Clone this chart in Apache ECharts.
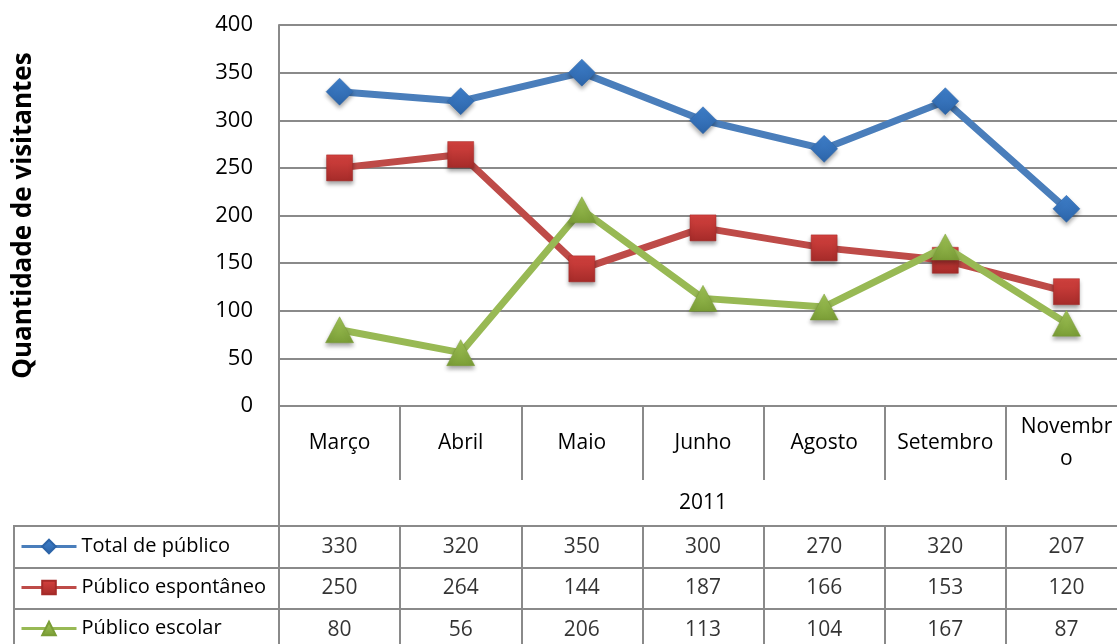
<!DOCTYPE html>
<html>
<head>
<meta charset="utf-8">
<script src="https://cdn.jsdelivr.net/npm/echarts@6/dist/echarts.min.js"></script>
<style>
html,body{margin:0;padding:0;background:#fff;}
#chart{width:1117px;height:644px;}
</style>
</head>
<body>
<div id="chart"></div>
<script>
const categories = ['Março','Abril','Maio','Junho','Agosto','Setembro','Novembro'];
const categoryTickLabels = ['Março','Abril','Maio','Junho','Agosto','Setembro','Novembr\no'];
const yearLabel = '2011';
const seriesNames = ['Total de público','Público espontâneo','Público escolar'];
const totalPublico = [330,320,350,300,270,320,207];
const publicoEspontaneo = [250,264,144,187,166,153,120];
const publicoEscolar = [80,56,206,113,104,167,87];
const yTicks = {min:0, max:400, interval:50};
const yTitle = 'Quantidade de visitantes';

const FONT = 'Open Sans';
const GRAY = '#8a8a8a';
const lineColors = ['#4a7ebb','#be4b48','#98b954'];
const markerTop = ['#3f80cc','#d6423f','#a2c658'];
const markerBottom = ['#2c64a8','#a52b29','#7a9d36'];
const symbols = ['diamond','rect','triangle'];
const symbolSizes = [27,26,[28,26]];
const allValues = [totalPublico, publicoEspontaneo, publicoEscolar];

const L = 279, W = 848;
const chart = echarts.init(document.getElementById('chart'));

function grad(i){
  return new echarts.graphic.LinearGradient(0,0,0,1,[
    {offset:0,color:markerTop[i]},{offset:1,color:markerBottom[i]}]);
}

const lineSeries = seriesNames.map((name,i)=>({
  name, type:'line', xAxisIndex:0, yAxisIndex:0,
  data: allValues[i],
  symbol: symbols[i], symbolSize: symbolSizes[i],
  lineStyle:{color:lineColors[i], width:7},
  itemStyle:{color:grad(i), borderColor:markerBottom[i], borderWidth:0.5,
    shadowColor:'rgba(0,0,0,0.35)', shadowBlur:4, shadowOffsetY:3},
  z: 3+i
}));

const tableSeries = seriesNames.map((name,i)=>({
  name: 'tbl_'+i, type:'scatter', xAxisIndex:1, yAxisIndex:1,
  symbolSize:0, silent:true,
  data: allValues[i].map((v,j)=>[j,i,v]),
  label:{show:true, position:'inside', formatter:p=>String(p.value[2]),
    color:'#000', fontFamily:FONT, fontSize:21}
}));

const gridBase = {outerBoundsMode:'none', containLabel:false};

const option = {
  animation:false,
  backgroundColor:'#fff',
  textStyle:{fontFamily:FONT},
  legend:{
    data: seriesNames,
    orient:'vertical', left:20, top:536, padding:0,
    itemWidth:55, itemHeight:17, itemGap:20,
    lineStyle:{width:3},
    textStyle:{fontFamily:FONT, fontSize:20, color:'#000', lineHeight:21},
    selectedMode:false
  },
  grid:[
    Object.assign({left:L, width:W, top:25, height:381}, gridBase),
    Object.assign({left:L, width:W, top:526, height:124.5, show:true, borderColor:GRAY, borderWidth:2}, gridBase),
    Object.assign({left:14, width:265, top:526, height:124.5, show:true, borderColor:GRAY, borderWidth:2}, gridBase),
    Object.assign({left:L, width:1, top:406, height:120}, gridBase)
  ],
  xAxis:[
    {type:'category', gridIndex:0, data:categories,
      axisLine:{show:true, lineStyle:{color:GRAY, width:2}},
      axisTick:{show:true, interval:0, length:74, lineStyle:{color:GRAY, width:2}},
      axisLabel:{interval:0, margin:37, verticalAlign:'middle', lineHeight:32,
        color:'#000', fontFamily:FONT, fontSize:21,
        formatter:(v,idx)=>categoryTickLabels[idx]},
      name:yearLabel, nameLocation:'middle', nameGap:97,
      nameTextStyle:{color:'#000', fontFamily:FONT, fontSize:21, verticalAlign:'middle'}
    },
    {type:'category', gridIndex:1, data:categories,
      axisLine:{show:false}, axisTick:{show:false}, axisLabel:{show:false},
      splitLine:{show:true, interval:0, lineStyle:{color:GRAY, width:2}}
    },
    {type:'category', gridIndex:2, data:[''], show:false},
    {type:'value', gridIndex:3, show:false}
  ],
  yAxis:[
    {type:'value', gridIndex:0, min:yTicks.min, max:yTicks.max, interval:yTicks.interval,
      axisLine:{show:true, lineStyle:{color:GRAY, width:2}},
      axisTick:{show:false},
      axisLabel:{margin:26, color:'#000', fontFamily:FONT, fontSize:22},
      splitLine:{show:true, lineStyle:{color:GRAY, width:2}},
      name:yTitle, nameLocation:'middle', nameRotate:90, nameGap:242,
      nameTextStyle:{color:'#000', fontFamily:FONT, fontSize:26, fontWeight:'bold'}
    },
    {type:'category', gridIndex:1, data:seriesNames, inverse:true,
      axisLine:{show:false}, axisTick:{show:false}, axisLabel:{show:false},
      splitLine:{show:true, interval:0, lineStyle:{color:GRAY, width:2}}
    },
    {type:'category', gridIndex:2, data:seriesNames, inverse:true,
      axisLine:{show:false}, axisTick:{show:false}, axisLabel:{show:false},
      splitLine:{show:true, interval:0, lineStyle:{color:GRAY, width:2}}
    },
    {type:'value', gridIndex:3, min:0, max:1,
      axisLine:{show:true, lineStyle:{color:GRAY, width:2}},
      axisTick:{show:false}, axisLabel:{show:false}, splitLine:{show:false}
    }
  ],
  series: lineSeries.concat(tableSeries)
};
chart.setOption(option);
</script>
</body>
</html>
